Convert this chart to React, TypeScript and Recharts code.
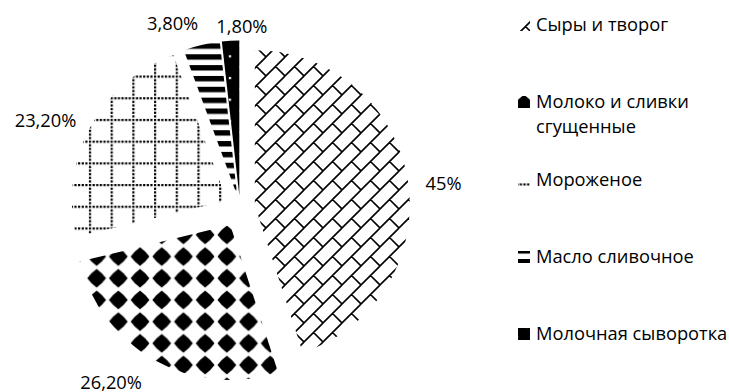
import { PieChart, Pie, Cell, Sector, Legend } from 'recharts';

const categories = [
  'Сыры и творог',
  'Молоко и сливки сгущенные',
  'Мороженое',
  'Масло сливочное',
  'Молочная сыворотка',
];
const shares = [45, 26.2, 23.2, 3.8, 1.8];

const data = categories.map((name, i) => ({ name, value: shares[i] }));

const FONT = '"Open Sans", sans-serif';
const FONT_SIZE = 18.3;
const RADIAN = Math.PI / 180;
const T = 21.7; // hatch tile size
const B = 19; // brick tile size

// how far each slice is pulled out of the pie
const explode = [15, 20, 15, 12, 12];
// small shifts so the percent labels clear each other
const labelNudge = [
  [6, 7],
  [-29, -4],
  [-18, 7],
  [-22, 8],
  [13, 16],
];

const fills = ['pat-brick', 'pat-diamond', 'pat-dotgrid', 'pat-stripes', 'pat-solid'];
// which part of each hatch shows in the legend swatch
const swatchViews = ['2 2 12 12', '3.85 9.85 12 12', '7.5 1 12 12', '0 -8 12 12', '3.5 14.5 12 12'];

const formatShare = (v: number) =>
  Number.isInteger(v) ? `${v}%` : `${v.toFixed(2).replace('.', ',')}%`;

const sliceIndex = (props: any) => {
  if (typeof props.index === 'number') return props.index;
  return categories.indexOf(props.payload?.name ?? props.name);
};

const shift = (index: number, midAngle: number) => {
  const d = explode[index] ?? 0;
  return { dx: d * Math.cos(-midAngle * RADIAN), dy: d * Math.sin(-midAngle * RADIAN) };
};

const renderSlice = (props: any) => {
  const i = sliceIndex(props);
  const { dx, dy } = shift(i, props.midAngle);
  return <Sector {...props} cx={props.cx + dx} cy={props.cy + dy} />;
};

const renderLabel = (props: any) => {
  const { cx, cy, midAngle, outerRadius, value } = props;
  const i = sliceIndex(props);
  const { dx, dy } = shift(i, midAngle);
  const r = outerRadius + 30;
  const [nx, ny] = labelNudge[i];
  const x = cx + dx + r * Math.cos(-midAngle * RADIAN) + nx;
  const y = cy + dy + r * Math.sin(-midAngle * RADIAN) + ny;
  return (
    <text x={x} y={y} dy={6.6} textAnchor="middle" fontFamily={FONT} fontSize={FONT_SIZE} fill="#000">
      {formatShare(value)}
    </text>
  );
};

// diagonal brick: "/" runs with short "\" joints, staggered row to row
const brickPath = (() => {
  let d = '';
  for (let sx = -1; sx <= 1; sx++) {
    for (let sy = -1; sy <= 1; sy++) {
      const ox = sx * B;
      const oy = sy * B;
      d += `M${ox},${oy + B}L${ox + B},${oy}`;
      d += `M${ox + B / 2},${oy + B / 2}L${ox + B},${oy + B}`;
    }
  }
  return d;
})();

// four-pointed blob: pointed tips on the axes, bulging sides between them
const blobPath = (() => {
  const c = T / 2;
  const tip = 9.4;
  const bulge = 7.75;
  let d = '';
  for (let k = 0; k < 4; k++) {
    const a = (k * Math.PI) / 2;
    const m = a + Math.PI / 4;
    const n = a + Math.PI / 2;
    if (k === 0) d += `M${c + tip * Math.cos(a)},${c + tip * Math.sin(a)}`;
    d += `Q${c + bulge * Math.cos(m)},${c + bulge * Math.sin(m)} ${c + tip * Math.cos(n)},${c + tip * Math.sin(n)}`;
  }
  return d + 'Z';
})();

const dotGrid = (() => {
  const dots: [number, number][] = [];
  for (let k = 0; k < 6; k++) dots.push([(k * T) / 6, 0]);
  for (let k = 1; k < 6; k++) dots.push([0, (k * T) / 6]);
  return dots;
})();

const Hatches = () => (
  <defs>
    <pattern id="pat-brick" patternUnits="userSpaceOnUse" width={B} height={B}>
      <rect width={B} height={B} fill="#fff" />
      <path d={brickPath} stroke="#000" strokeWidth={1.6} fill="none" />
    </pattern>
    <pattern id="pat-diamond" patternUnits="userSpaceOnUse" x={-1} y={7} width={T} height={T}>
      <rect width={T} height={T} fill="#fff" />
      <path d={blobPath} fill="#000" />
      <circle cx={T / 2} cy={T / 2} r={5.6} fill="#000" />
    </pattern>
    <pattern id="pat-dotgrid" patternUnits="userSpaceOnUse" x={2.1} y={10.4} width={T} height={T}>
      <rect width={T} height={T} fill="#fff" />
      {dotGrid.map(([x, y], k) => (
        <rect key={k} x={x} y={y} width={2.2} height={2.2} fill="#000" />
      ))}
    </pattern>
    <pattern id="pat-stripes" patternUnits="userSpaceOnUse" width={T} height={T / 2}>
      <rect width={T} height={T / 2} fill="#fff" />
      <rect width={T} height={T / 4} fill="#000" />
    </pattern>
    <pattern id="pat-solid" patternUnits="userSpaceOnUse" width={T} height={T}>
      <rect width={T} height={T} fill="#000" />
      <rect x={1} y={1} width={2.2} height={2.2} fill="#fff" />
      <rect x={T / 2 + 1} y={T / 2 + 1} width={2.2} height={2.2} fill="#fff" />
    </pattern>
  </defs>
);

// legend keeps the slice order, one swatch per category
const renderLegend = () => (
  <div style={{ position: 'relative', width: 211, height: 392, fontFamily: FONT, fontSize: FONT_SIZE, color: '#000' }}>
    {categories.map((name, i) => (
      <div
        key={name}
        style={{ position: 'absolute', left: 0, top: 11 + i * 77.3, display: 'flex', alignItems: 'flex-start', lineHeight: '25px' }}
      >
        <svg width={12} height={12} viewBox={swatchViews[i]} style={{ marginTop: 8, marginRight: 6, flex: 'none' }}>
          <rect x={-40} y={-40} width={100} height={100} fill={`url(#${fills[i]})`} />
        </svg>
        <span style={{ width: 200 }}>{name}</span>
      </div>
    ))}
  </div>
);

export default function App() {
  return (
    <div style={{ width: 729, height: 392, background: '#fff', overflow: 'hidden' }}>
      <style>{'body{margin:0}'}</style>
      <PieChart width={729} height={392} margin={{ top: 0, right: 0, bottom: 0, left: 0 }}>
        <Hatches />
        <Pie
          data={data}
          dataKey="value"
          nameKey="name"
          cx={240}
          cy={207.5}
          outerRadius={155}
          startAngle={90}
          endAngle={-270}
          stroke="none"
          isAnimationActive={false}
          shape={renderSlice}
          label={renderLabel}
          labelLine={false}
        >
          {data.map((d, i) => (
            <Cell key={d.name} fill={`url(#${fills[i]})`} />
          ))}
        </Pie>
        <Legend
          layout="vertical"
          align="right"
          verticalAlign="top"
          content={renderLegend}
          wrapperStyle={{ left: 518, top: 0, right: 'auto', width: 211, height: 392 }}
        />
      </PieChart>
    </div>
  );
}
